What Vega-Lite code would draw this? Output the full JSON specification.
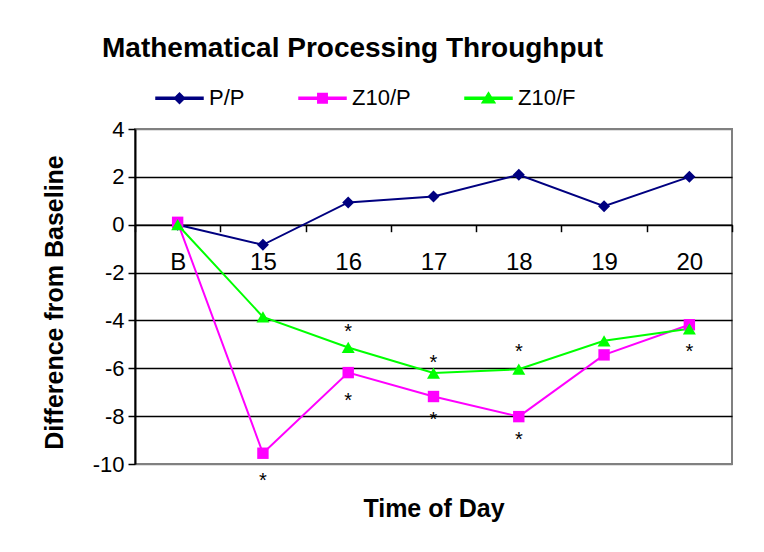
{
"$schema": "https://vega.github.io/schema/vega-lite/v6.json",
"width": 597,
"height": 335,
"autosize": {"type": "none"},
"padding": {"left": 135, "top": 129, "right": 32, "bottom": 88},
"background": "white",
"config": {
  "view": {"stroke": "#808080", "strokeWidth": 2},
  "font": "Liberation Sans",
  "text": {"font": "Liberation Sans"}
},
"title": {
  "text": "Mathematical Processing Throughput",
  "fontSize": 28, "fontWeight": "bold", "font": "Liberation Sans", "color": "black",
  "anchor": "middle", "frame": "group", "dx": -81, "baseline": "alphabetic", "offset": -11
},
"datasets": {
  "series": [
    {"series": "P/P", "time": "B", "value": 0},
    {"series": "P/P", "time": "15", "value": -0.84},
    {"series": "P/P", "time": "16", "value": 0.93},
    {"series": "P/P", "time": "17", "value": 1.18},
    {"series": "P/P", "time": "18", "value": 2.09},
    {"series": "P/P", "time": "19", "value": 0.77},
    {"series": "P/P", "time": "20", "value": 2.0},
    {"series": "Z10/P", "time": "B", "value": 0.1},
    {"series": "Z10/P", "time": "15", "value": -9.55},
    {"series": "Z10/P", "time": "16", "value": -6.18},
    {"series": "Z10/P", "time": "17", "value": -7.18},
    {"series": "Z10/P", "time": "18", "value": -8.02},
    {"series": "Z10/P", "time": "19", "value": -5.44},
    {"series": "Z10/P", "time": "20", "value": -4.18},
    {"series": "Z10/F", "time": "B", "value": 0},
    {"series": "Z10/F", "time": "15", "value": -3.85},
    {"series": "Z10/F", "time": "16", "value": -5.13},
    {"series": "Z10/F", "time": "17", "value": -6.2},
    {"series": "Z10/F", "time": "18", "value": -6.04},
    {"series": "Z10/F", "time": "19", "value": -4.85},
    {"series": "Z10/F", "time": "20", "value": -4.35}
  ],
  "stars": [
    {"time": "15", "value": -10.5, "label": "*"},
    {"time": "16", "value": -4.28, "label": "*"},
    {"time": "16", "value": -7.15, "label": "*"},
    {"time": "17", "value": -5.55, "label": "*"},
    {"time": "17", "value": -7.95, "label": "*"},
    {"time": "18", "value": -5.13, "label": "*"},
    {"time": "18", "value": -8.8, "label": "*"},
    {"time": "20", "value": -5.13, "label": "*"}
  ]
},
"encoding": {
  "x": {
    "field": "time", "type": "nominal",
    "sort": ["B", "15", "16", "17", "18", "19", "20"],
    "scale": {"type": "band", "paddingInner": 0, "paddingOuter": 0},
    "axis": {
      "title": "Time of Day", "offset": -239.3,
      "domainColor": "black", "domainWidth": 1.5,
      "tickBand": "extent", "tickColor": "black", "tickSize": 7, "tickWidth": 1.5,
      "labelFontSize": 24, "labelColor": "black", "labelPadding": 19, "labelAngle": 0,
      "labelFont": "Liberation Sans",
      "titleFontSize": 25, "titleFontWeight": "bold", "titleColor": "black", "titleFont": "Liberation Sans",
      "titleX": 298.5, "titleY": 291.7, "titleBaseline": "alphabetic", "titleAlign": "center",
      "grid": false
    }
  },
  "y": {
    "field": "value", "type": "quantitative",
    "scale": {"domain": [-10, 4], "nice": false, "zero": false},
    "axis": {
      "title": "Difference from Baseline",
      "values": [-10, -8, -6, -4, -2, 0, 2, 4],
      "labelExpr": "datum.value + ''",
      "grid": true,
      "gridColor": {"condition": {"test": "datum.value === 4 || datum.value === -10", "value": "#808080"}, "value": "black"},
      "gridWidth": 1.5,
      "domainColor": "black", "domainWidth": 2,
      "tickColor": "black", "tickSize": 7, "tickWidth": 1.5,
      "labelFontSize": 22, "labelColor": "black", "labelPadding": 4, "labelFlush": false,
      "labelFont": "Liberation Sans",
      "titleFontSize": 25, "titleFontWeight": "bold", "titleColor": "black", "titleFont": "Liberation Sans",
      "titleX": -73, "titleY": 173, "titleAlign": "center", "titleBaseline": "alphabetic", "titleAngle": 270
    }
  }
},
"layer": [
  {
    "data": {"name": "series"},
    "transform": [{"filter": "false"}],
    "mark": {"type": "point", "filled": true, "opacity": 1, "strokeWidth": 0},
    "encoding": {
      "color": {
        "field": "series", "type": "nominal",
        "scale": {"domain": ["P/P", "Z10/P", "Z10/F"], "range": ["#000080", "#FF00FF", "#00FF00"]},
        "legend": {
          "title": null, "orient": "none", "legendX": 20, "legendY": -55.5,
          "direction": "horizontal", "labelFontSize": 22, "labelColor": "black", "labelFont": "Liberation Sans",
          "labelOffset": 5, "columnPadding": 51, "symbolSize": 2209, "symbolOpacity": 1, "padding": 0
        }
      },
      "shape": {
        "field": "series", "type": "nominal",
        "scale": {
          "domain": ["P/P", "Z10/P", "Z10/F"],
          "range": [
            "M-1,-0.043H1V0.043H-1Z M-0.22,0L0,-0.22L0.22,0L0,0.22Z",
            "M-1,-0.043H1V0.043H-1Z M-0.2,-0.2H0.2V0.2H-0.2Z",
            "M-1,-0.043H1V0.043H-1Z M0,-0.24L0.27,0.19H-0.27Z"
          ]
        },
        "legend": {
          "title": null, "orient": "none", "legendX": 20, "legendY": -55.5,
          "direction": "horizontal", "labelFontSize": 22, "labelColor": "black", "labelFont": "Liberation Sans",
          "labelOffset": 5, "columnPadding": 51, "symbolSize": 2209, "symbolOpacity": 1, "padding": 0
        }
      }
    }
  },
  {
    "data": {"name": "series"},
    "mark": {"type": "line", "strokeWidth": 2},
    "encoding": {
      "color": {"field": "series", "type": "nominal", "legend": null}
    }
  },
  {
    "data": {"name": "series"},
    "transform": [{"filter": "datum.series === 'P/P'"}],
    "mark": {"type": "point", "filled": true, "size": 144, "opacity": 1, "shape": "diamond"},
    "encoding": {"color": {"field": "series", "type": "nominal", "legend": null}}
  },
  {
    "data": {"name": "series"},
    "transform": [{"filter": "datum.series === 'Z10/P'"}],
    "mark": {"type": "point", "filled": true, "size": 130, "opacity": 1, "shape": "square"},
    "encoding": {"color": {"field": "series", "type": "nominal", "legend": null}}
  },
  {
    "data": {"name": "series"},
    "transform": [{"filter": "datum.series === 'Z10/F'"}],
    "mark": {"type": "point", "filled": true, "size": 169, "opacity": 1, "shape": "triangle-up"},
    "encoding": {"color": {"field": "series", "type": "nominal", "legend": null}}
  },
  {
    "data": {"name": "stars"},
    "mark": {"type": "text", "fontSize": 20, "dy": 11, "baseline": "alphabetic", "color": "black", "font": "Liberation Sans"},
    "encoding": {
      "text": {"field": "label", "type": "nominal"}
    }
  }
]
}
